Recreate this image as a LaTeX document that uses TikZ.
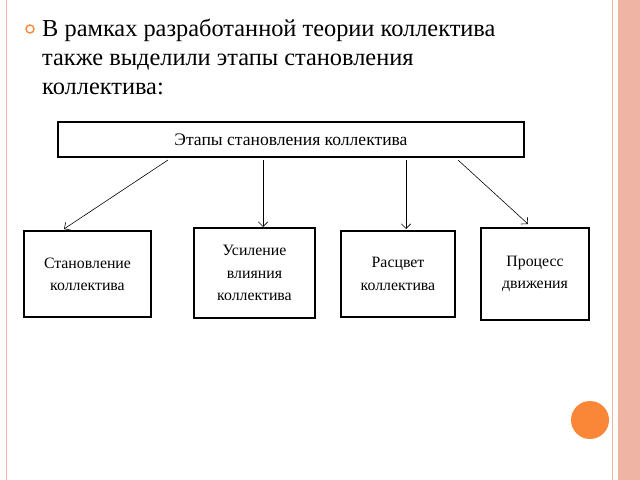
\documentclass[tikz,border=0pt]{standalone}
\usepackage{fontspec}
\setmainfont{Liberation Serif}
\usetikzlibrary{arrows.meta}
\definecolor{slidepink}{RGB}{240,180,165}
\definecolor{slideorange}{RGB}{250,135,55}
\tikzset{
  stagebox/.style={draw, line width=1.2pt, align=center, font=\fontsize{13.5}{19}\selectfont, inner sep=0pt},
  link/.style={-{Straight Barb[length=4pt]}, line width=0.5pt}
}
\begin{document}
\begin{tikzpicture}[x=0.03cm, y=-0.03cm]
  \useasboundingbox (0,0) rectangle (640,480);
  % slide frame
  \fill[slidepink] (618,0) rectangle (640,480);
  \draw[slidepink, line width=0.6pt] (612,0) -- (612,480);
  \draw[slidepink, line width=0.6pt] (6,0) -- (6,480);
  \fill[slideorange] (590,420) circle (19);
  % bullet text
  \draw[slideorange, line width=1.2pt] (30,29) circle (4);
  \node[anchor=north west, align=left, font=\fontsize{20.8}{24.7}\selectfont, inner sep=0pt] (intro) at (42,19)
    {В рамках разработанной теории коллектива\\также выделили этапы становления\\коллектива:};
  % Nodes
  \node[stagebox, minimum width=13.98cm, minimum height=1.05cm, font=\fontsize{15}{19}\selectfont] (top) at (291,139.5) {Этапы становления коллектива};
  \node[stagebox, minimum width=3.81cm, minimum height=2.58cm] (s1) at (87.5,274) {Становление\\коллектива};
  \node[stagebox, minimum width=3.63cm, minimum height=2.7cm] (s2) at (254.5,273) {Усиление\\влияния\\коллектива};
  \node[stagebox, minimum width=3.42cm, minimum height=2.58cm] (s3) at (398,274) {Расцвет\\коллектива};
  \node[stagebox, minimum width=3.24cm, minimum height=2.76cm] (s4) at (535,274) {Процесс\\движения};
  % Edges
  \coordinate (a1) at (168,160);
  \coordinate (a2) at (263,160);
  \coordinate (a3) at (406,160);
  \coordinate (a4) at (458,160);
  \draw[link] (a1) -- (64,229);
  \draw[link] (a2) -- (263,227);
  \draw[link] (a3) -- (406,229);
  \draw[link] (a4) -- (528,224);
\end{tikzpicture}
\end{document}
